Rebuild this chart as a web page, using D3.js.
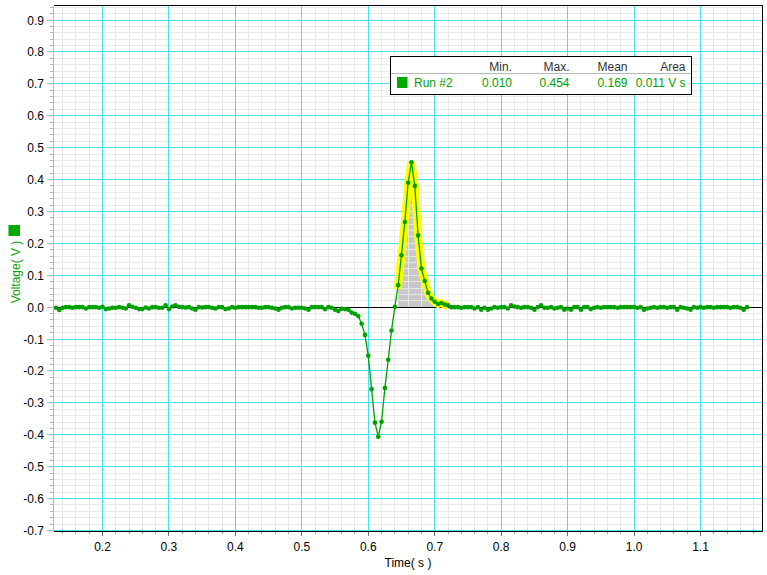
<!DOCTYPE html>
<html><head><meta charset="utf-8">
<script src="https://cdn.jsdelivr.net/npm/d3@7"></script>
<style>body{margin:0;background:#fff}svg{display:block;font-family:"Liberation Sans",Arial,sans-serif}</style>
</head><body><svg id="c" width="767" height="575"></svg>
<script>
// ---- data ----
const sampleTimes = [
0.130,0.135,0.140,0.145,0.150,0.155,0.160,0.165,0.170,0.175,0.180,0.185,0.190,0.195,0.200,0.205,0.210,0.215,0.220,0.225,
0.230,0.235,0.240,0.245,0.250,0.255,0.260,0.265,0.270,0.275,0.280,0.285,0.290,0.295,0.300,0.305,0.310,0.315,0.320,0.325,
0.330,0.335,0.340,0.345,0.350,0.355,0.360,0.365,0.370,0.375,0.380,0.385,0.390,0.395,0.400,0.405,0.410,0.415,0.420,0.425,
0.430,0.435,0.440,0.445,0.450,0.455,0.460,0.465,0.470,0.475,0.480,0.485,0.490,0.495,0.500,0.505,0.510,0.515,0.520,0.525,
0.530,0.535,0.540,0.545,0.550,0.555,0.560,0.565,0.570,0.575,0.580,0.585,0.590,0.595,0.600,0.605,0.610,0.615,0.620,0.625,
0.630,0.635,0.640,0.645,0.650,0.655,0.660,0.665,0.670,0.675,0.680,0.685,0.690,0.695,0.700,0.705,0.710,0.715,0.720,0.725,
0.730,0.735,0.740,0.745,0.750,0.755,0.760,0.765,0.770,0.775,0.780,0.785,0.790,0.795,0.800,0.805,0.810,0.815,0.820,0.825,
0.830,0.835,0.840,0.845,0.850,0.855,0.860,0.865,0.870,0.875,0.880,0.885,0.890,0.895,0.900,0.905,0.910,0.915,0.920,0.925,
0.930,0.935,0.940,0.945,0.950,0.955,0.960,0.965,0.970,0.975,0.980,0.985,0.990,0.995,1.000,1.005,1.010,1.015,1.020,1.025,
1.030,1.035,1.040,1.045,1.050,1.055,1.060,1.065,1.070,1.075,1.080,1.085,1.090,1.095,1.100,1.105,1.110,1.115,1.120,1.125,
1.130,1.135,1.140,1.145,1.150,1.155,1.160,1.165,1.170];
const voltages = [
-0.002,-0.009,-0.002,0.000,0.000,-0.002,0.000,0.000,0.000,-0.004,0.000,0.000,0.000,-0.002,0.001,-0.006,-0.004,-0.002,-0.002,0.000,
-0.002,-0.004,0.006,0.001,-0.002,-0.006,-0.006,-0.001,-0.004,0.000,0.000,-0.002,-0.002,0.006,-0.006,0.002,0.006,0.001,0.000,-0.001,
0.000,-0.004,-0.008,0.000,-0.001,0.000,0.000,-0.002,-0.004,0.000,0.000,-0.006,-0.004,0.000,-0.002,0.000,0.000,0.000,0.000,0.000,
0.000,-0.002,-0.002,0.000,0.000,-0.002,-0.004,-0.008,-0.002,0.000,0.000,-0.004,-0.002,-0.002,-0.002,-0.004,-0.008,0.000,0.000,0.000,
0.000,-0.006,0.000,-0.002,-0.008,-0.012,-0.005,-0.006,-0.008,-0.017,-0.021,-0.028,-0.052,-0.087,-0.152,-0.257,-0.362,-0.406,-0.359,-0.253,
-0.165,-0.073,0.001,0.069,0.163,0.267,0.390,0.454,0.380,0.225,0.121,0.082,0.045,0.027,0.017,0.010,0.013,0.008,0.006,0.000,
0.000,0.000,-0.002,0.000,0.000,0.000,-0.004,0.000,-0.008,-0.002,-0.008,-0.004,0.000,-0.002,0.000,0.000,-0.004,0.006,0.002,0.000,
-0.002,0.000,0.000,-0.002,-0.008,0.000,0.006,-0.002,-0.002,0.000,-0.004,-0.002,0.000,-0.008,-0.004,-0.008,0.000,0.000,-0.008,0.000,
0.000,-0.006,-0.002,0.000,-0.002,0.000,0.000,0.000,0.000,-0.002,0.000,0.000,0.000,0.000,0.000,-0.002,0.000,-0.008,-0.004,-0.002,
0.000,-0.002,0.000,0.000,-0.002,0.000,0.000,-0.008,0.000,-0.002,-0.004,-0.008,0.000,-0.002,0.000,-0.002,0.000,0.000,-0.002,0.000,
0.000,0.000,0.000,-0.002,0.000,0.000,-0.002,-0.008,0.000];
const xTickValues = [0.2,0.3,0.4,0.5,0.6,0.7,0.8,0.9,1.0,1.1];
const yTickValues = [-0.7,-0.6,-0.5,-0.4,-0.3,-0.2,-0.1,0.0,0.1,0.2,0.3,0.4,0.5,0.6,0.7,0.8,0.9];
const xDomain = [0.12625, 1.19332];
const yDomain = [-0.7, 0.9455];
const selectionRange = [0.645, 0.715];
const seriesName = "Run #2";
const statHeaders = ["Min.", "Max.", "Mean", "Area"];
const statValues = ["0.010", "0.454", "0.169", "0.011 V s"];
const xTitle = "Time( s )";
const yTitle = "Voltage( V )";

// ---- drawing ----
const GREEN = "#00a000", CYAN = "#44e2ee", MINOR = "#e9e9e9";
const L = 53.5, R = 762.5, T = 5.5, B = 530.5;
const svg = d3.select("#c");
const x = d3.scaleLinear().domain(xDomain).range([L, R]);
const y = d3.scaleLinear().domain(yDomain).range([B, T]);
const data = sampleTimes.map((t, i) => ({t, v: voltages[i]}));
const sel = data.filter(d => d.t >= selectionRange[0] - 1e-9 && d.t <= selectionRange[1] + 1e-9);

svg.append("rect").attr("width", 767).attr("height", 575).attr("fill", "#fff");

const minorX = x.ticks(50).filter(v => !xTickValues.some(m => Math.abs(m - v) < 1e-6));
const minorY = y.ticks(80).filter(v => !yTickValues.some(m => Math.abs(m - v) < 1e-6));
const snap = p => Math.round(p - 0.5) + 0.5;

function drawGrid(g, minorCol, majorCol) {
  g.selectAll(null).data(minorX).join("line")
    .attr("x1", d => snap(x(d))).attr("x2", d => snap(x(d))).attr("y1", T).attr("y2", B)
    .attr("stroke", minorCol);
  g.selectAll(null).data(minorY).join("line")
    .attr("y1", d => snap(y(d))).attr("y2", d => snap(y(d))).attr("x1", L).attr("x2", R)
    .attr("stroke", minorCol);
  g.selectAll(null).data(xTickValues).join("line")
    .attr("x1", d => snap(x(d))).attr("x2", d => snap(x(d))).attr("y1", T).attr("y2", B)
    .attr("stroke", majorCol);
  g.selectAll(null).data(yTickValues).join("line")
    .attr("y1", d => snap(y(d))).attr("y2", d => snap(y(d))).attr("x1", L).attr("x2", R)
    .attr("stroke", majorCol);
}
const grid = svg.append("g").attr("shape-rendering", "crispEdges");
drawGrid(grid, MINOR, CYAN);

// selected area fill
const area = d3.area().x(d => x(d.t)).y0(y(0)).y1(d => y(d.v));
svg.append("clipPath").attr("id", "selclip").append("path").attr("d", area(sel));
svg.append("path").attr("d", area(sel)).attr("fill", "#c8c8c8");
const g2 = svg.append("g").attr("clip-path", "url(#selclip)").attr("shape-rendering", "crispEdges");
drawGrid(g2, "#e6e6e6", "#e6e6e6");

// zero line
svg.append("line").attr("x1", L).attr("x2", R).attr("y1", snap(y(0))).attr("y2", snap(y(0)))
  .attr("stroke", "#000").attr("shape-rendering", "crispEdges");

// highlight of the selection
const line = d3.line().x(d => x(d.t)).y(d => y(d.v));
svg.append("path").attr("d", line(sel)).attr("fill", "none")
  .attr("stroke", "#ffff00").attr("stroke-width", 8)
  .attr("stroke-linejoin", "miter").attr("stroke-linecap", "square");

// series
svg.append("path").attr("d", line(data)).attr("fill", "none")
  .attr("stroke", GREEN).attr("stroke-width", 1.3);
svg.append("g").selectAll("circle").data(data).join("circle")
  .attr("cx", d => x(d.t)).attr("cy", d => y(d.v)).attr("r", 2.3).attr("fill", GREEN);

// frame
const frame = svg.append("g").attr("shape-rendering", "crispEdges");
frame.append("line").attr("x1", L).attr("x2", R).attr("y1", T).attr("y2", T).attr("stroke", "#000");
frame.append("line").attr("x1", R).attr("x2", R).attr("y1", T).attr("y2", B + 1).attr("stroke", "#000");
frame.append("line").attr("x1", L).attr("x2", R).attr("y1", B + 1).attr("y2", B + 1).attr("stroke", "#000");
frame.append("line").attr("x1", L).attr("x2", L).attr("y1", T).attr("y2", B + 1).attr("stroke", "#b4b4b4");

// y axis ticks and labels
const ya = svg.append("g").attr("shape-rendering", "crispEdges");
ya.selectAll(null).data(minorY.filter(v => v > yDomain[0] && v < yDomain[1])).join("line")
  .attr("x1", L - 3.5).attr("x2", L).attr("y1", d => snap(y(d))).attr("y2", d => snap(y(d))).attr("stroke", "#b4b4b4");
ya.selectAll(null).data(yTickValues).join("line")
  .attr("x1", L - 6.5).attr("x2", L).attr("y1", d => snap(y(d))).attr("y2", d => snap(y(d))).attr("stroke", "#b4b4b4");
svg.append("g").selectAll("text").data(yTickValues).join("text")
  .attr("x", 44).attr("y", d => y(d) + 4.5).attr("text-anchor", "end")
  .attr("font-size", 12).attr("fill", "#000").text(d => d.toFixed(1));

// x axis ticks and labels
const xa = svg.append("g").attr("shape-rendering", "crispEdges");
xa.selectAll(null).data(minorX).join("line")
  .attr("x1", d => snap(x(d))).attr("x2", d => snap(x(d))).attr("y1", B + 1).attr("y2", B + 3.5).attr("stroke", "#a0a0a0");
xa.selectAll(null).data(xTickValues).join("line")
  .attr("x1", d => snap(x(d))).attr("x2", d => snap(x(d))).attr("y1", B + 1).attr("y2", B + 5).attr("stroke", "#707070");
svg.append("g").selectAll("text").data(xTickValues).join("text")
  .attr("x", d => x(d)).attr("y", 551).attr("text-anchor", "middle")
  .attr("font-size", 12).attr("fill", "#000").text(d => d.toFixed(1));

// axis titles
svg.append("text").attr("x", (L + R) / 2).attr("y", 567).attr("text-anchor", "middle")
  .attr("font-size", 12).attr("fill", "#000").text(xTitle);
svg.append("rect").attr("x", 8.5).attr("y", 225).attr("width", 11.5).attr("height", 11).attr("fill", "#00aa00");
svg.append("text").attr("transform", "translate(19.5,272) rotate(-90)").attr("text-anchor", "middle")
  .attr("font-size", 12).attr("fill", GREEN).text(yTitle);

// legend / statistics box
const lg = svg.append("g");
lg.append("rect").attr("x", 390.5).attr("y", 56.5).attr("width", 301).attr("height", 37.5)
  .attr("fill", "#fff").attr("stroke", "#000").attr("shape-rendering", "crispEdges");
lg.append("line").attr("x1", 391).attr("x2", 691).attr("y1", 73.5).attr("y2", 73.5)
  .attr("stroke", "#b8b8b8").attr("shape-rendering", "crispEdges");
const colRight = [512, 569.5, 627.5, 685.5];
lg.selectAll("text.h").data(statHeaders).join("text").attr("class", "h")
  .attr("x", (d, i) => colRight[i]).attr("y", 70.5).attr("text-anchor", "end")
  .attr("font-size", 12).attr("fill", "#333").text(d => d);
lg.append("rect").attr("x", 397).attr("y", 77).attr("width", 10.5).attr("height", 11).attr("fill", "#00aa00");
lg.append("text").attr("x", 414).attr("y", 87).attr("font-size", 12).attr("fill", GREEN).text(seriesName);
lg.selectAll("text.v").data(statValues).join("text").attr("class", "v")
  .attr("x", (d, i) => colRight[i]).attr("y", 87).attr("text-anchor", "end")
  .attr("font-size", 12).attr("fill", GREEN).text(d => d);
</script>
</body></html>
